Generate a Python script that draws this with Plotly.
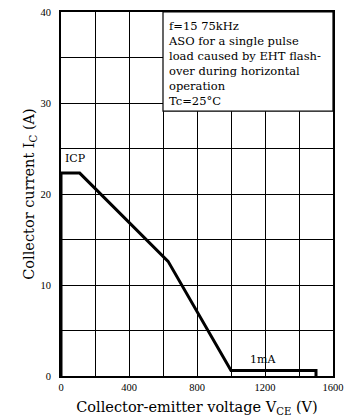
import plotly.graph_objects as go

vce = [0, 0, 110, 630, 1000, 1500, 1500]
ic = [0, 22.3, 22.3, 12.6, 0.6, 0.6, 0]

x_ticks = [0, 400, 800, 1200, 1600]
y_ticks = [0, 10, 20, 30, 40]

note_lines = ["f=15 75kHz", "ASO for a single pulse", "load caused by EHT flash-",
              "over during horizontal", "operation", "Tc=25°C"]

FONT = "DejaVu Serif, Liberation Serif, serif"
TICKFONT = "Liberation Serif, serif"

fig = go.Figure()
fig.add_trace(go.Scatter(x=vce, y=ic, mode="lines",
                         line=dict(color="black", width=3), showlegend=False,
                         hoverinfo="skip"))

fig.add_shape(type="rect", x0=600, x1=1600, y0=29.1, y1=40,
              xref="x", yref="y", fillcolor="white",
              line=dict(color="black", width=1.2), layer="above")

fig.add_annotation(x=620, y=39.4, xref="x", yref="y", xanchor="left", yanchor="top",
                   text="<br>".join(note_lines), showarrow=False, align="left",
                   font=dict(family=FONT, size=11.5, color="black"))

fig.add_annotation(x=10, y=23.0, xref="x", yref="y", xanchor="left", yanchor="bottom",
                   text="ICP", showarrow=False,
                   font=dict(family=FONT, size=11, color="black"))
fig.add_annotation(x=1190, y=0.9, xref="x", yref="y", xanchor="center", yanchor="bottom",
                   text="1mA", showarrow=False,
                   font=dict(family=FONT, size=11, color="black"))

fig.update_layout(
    width=359, height=417,
    margin=dict(l=61, r=26, t=12, b=41, autoexpand=False),
    paper_bgcolor="white", plot_bgcolor="white",
    font=dict(family=FONT, color="black"),
    xaxis=dict(range=[0, 1600], tickvals=x_ticks, ticktext=[str(v) for v in x_ticks],
               automargin=False,
               showgrid=True, gridcolor="black", gridwidth=1,
               minor=dict(dtick=200, tick0=0, showgrid=True, gridcolor="black", gridwidth=1),
               showline=True, linecolor="black", linewidth=2, mirror=True,
               ticks="", zeroline=False, tickfont=dict(size=10.5, family=TICKFONT),
               title=dict(text="Collector-emitter voltage V<sub>CE</sub> (V)",
                          font=dict(size=14.5), standoff=13)),
    yaxis=dict(range=[0, 40], tickvals=y_ticks, ticktext=[str(v) for v in y_ticks],
               automargin=False,
               showgrid=True, gridcolor="black", gridwidth=1,
               minor=dict(dtick=5, tick0=0, showgrid=True, gridcolor="black", gridwidth=1),
               showline=True, linecolor="black", linewidth=2, mirror=True,
               ticks="", zeroline=False, tickfont=dict(size=10.5, family=TICKFONT),
               ticklabelstandoff=6,
               title=dict(text="Collector current I<sub>C</sub> (A)",
                          font=dict(size=14.5), standoff=2)),
)

fig.write_html("out.html")
